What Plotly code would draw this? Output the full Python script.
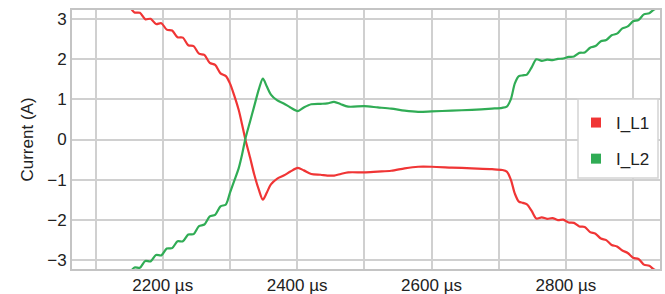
import plotly.graph_objects as go

time_us = [2150, 2158, 2166, 2174, 2182, 2190, 2198, 2206, 2214, 2222, 2230, 2238, 2246, 2254,
           2262, 2270, 2278, 2286, 2294, 2300, 2306, 2313, 2318, 2323, 2330, 2336, 2343, 2349,
           2355, 2361, 2370, 2380, 2390, 2401, 2410, 2421, 2435, 2445, 2455, 2465, 2476, 2500,
           2520, 2540, 2560, 2580, 2600, 2630, 2660, 2690, 2705, 2712, 2718, 2724, 2730, 2736,
           2742, 2749, 2756, 2764, 2772, 2780, 2788, 2796, 2804, 2812, 2820, 2828, 2836, 2844,
           2852, 2860, 2868, 2876, 2884, 2892, 2900, 2908, 2916, 2924, 2932, 2940]

i_l1 = [3.33, 3.17, 3.16, 3.00, 3.01, 2.88, 2.90, 2.74, 2.72, 2.55, 2.54, 2.35, 2.33, 2.14,
        2.11, 1.91, 1.86, 1.65, 1.58, 1.40, 1.12, 0.74, 0.38, 0.0, -0.45, -0.86, -1.25, -1.5,
        -1.32, -1.12, -0.98, -0.9, -0.8, -0.71, -0.77, -0.86, -0.88, -0.9, -0.9, -0.86, -0.82, -0.82,
        -0.8, -0.78, -0.72, -0.68, -0.68, -0.7, -0.72, -0.74, -0.76, -0.8, -1.0, -1.35, -1.55, -1.58,
        -1.62, -1.78, -1.97, -1.94, -1.98, -1.96, -2.01, -2.0, -2.07, -2.08, -2.17, -2.18, -2.31, -2.35,
        -2.47, -2.51, -2.63, -2.67, -2.77, -2.83, -2.95, -2.98, -3.12, -3.15, -3.25, -3.28]

i_l2 = [-3.35, -3.19, -3.20, -3.03, -3.04, -2.88, -2.89, -2.72, -2.71, -2.54, -2.54, -2.37, -2.36, -2.16,
        -2.12, -1.92, -1.88, -1.67, -1.62, -1.33, -1.05, -0.72, -0.38, 0.02, 0.45, 0.82, 1.25, 1.52,
        1.32, 1.12, 0.98, 0.9, 0.8, 0.71, 0.8, 0.88, 0.89, 0.9, 0.94, 0.88, 0.82, 0.83,
        0.8, 0.77, 0.72, 0.69, 0.7, 0.72, 0.74, 0.77, 0.79, 0.82, 1.0, 1.4, 1.58, 1.6,
        1.62, 1.8, 2.0, 1.96, 1.99, 1.98, 2.01, 2.02, 2.06, 2.07, 2.16, 2.17, 2.29, 2.33,
        2.45, 2.48, 2.6, 2.64, 2.77, 2.82, 2.95, 2.98, 3.12, 3.15, 3.25, 3.28]

series_names = ["I_L1", "I_L2"]
series_colors = ["#F03535", "#30AC55"]
x_tick_vals = [2200, 2400, 2600, 2800]
x_tick_text = ["2200 µs", "2400 µs", "2600 µs", "2800 µs"]

FONT = "Liberation Sans, Arial, sans-serif"
L, R, T, B = 72, 660, 10, 269
PW, PH = R - L, B - T

fig = go.Figure()
for name, vals, col in zip(series_names, [i_l1, i_l2], series_colors):
    fig.add_trace(go.Scatter(x=time_us, y=vals, mode="lines", name=name,
                             line=dict(color=col, width=2.2, shape="spline", smoothing=0.8),
                             showlegend=False))
# legend entries with square markers
for i, (name, col) in enumerate(zip(series_names, series_colors)):
    fig.add_trace(go.Scatter(x=[None], y=[None], mode="markers", name=name,
                             marker=dict(symbol="square", size=10, color=col),
                             legendgroup=f"g{i}", showlegend=True))

# legend box
fig.add_shape(type="rect", xref="paper", yref="paper",
              x0=(578 - L) / PW, x1=(658 - L) / PW,
              y0=(B - 178) / PH, y1=(B - 99) / PH,
              fillcolor="white", line=dict(color="#d4d4d4", width=1.5), layer="above")

fig.update_layout(
    width=665, height=294,
    margin=dict(l=L, r=665 - R, t=T, b=294 - B, autoexpand=False),
    paper_bgcolor="white", plot_bgcolor="white",
    font=dict(family=FONT, size=17, color="#222222"),
    legend=dict(x=(576 - L) / PW, xanchor="left", y=(B - 105) / PH, yanchor="top",
                bgcolor="rgba(0,0,0,0)", borderwidth=0, tracegroupgap=11,
                font=dict(family=FONT, size=17, color="#222222")),
    xaxis=dict(range=[2065, 2940], tickvals=x_tick_vals, ticktext=x_tick_text,
               showgrid=True, gridcolor="#d0d0d0", gridwidth=1.5,
               minor=dict(dtick=100, tick0=2100, showgrid=True, gridcolor="#d0d0d0", gridwidth=1.5),
               showline=True, linecolor="#c4c4c4", linewidth=2, mirror=True,
               zeroline=False, ticks="", tickfont=dict(size=17), automargin=False),
    yaxis=dict(range=[-3.23, 3.23], dtick=1, tick0=0,
               showgrid=True, gridcolor="#d0d0d0", gridwidth=1.5,
               showline=True, linecolor="#c4c4c4", linewidth=2, mirror=True,
               zeroline=False, ticks="", tickfont=dict(size=17), automargin=False,
               title=dict(text="Current (A)", font=dict(size=17), standoff=9)),
)

fig.write_html("out.html", config={"displayModeBar": False},
               post_script="document.body.style.margin='0';document.body.style.overflow='hidden';")
